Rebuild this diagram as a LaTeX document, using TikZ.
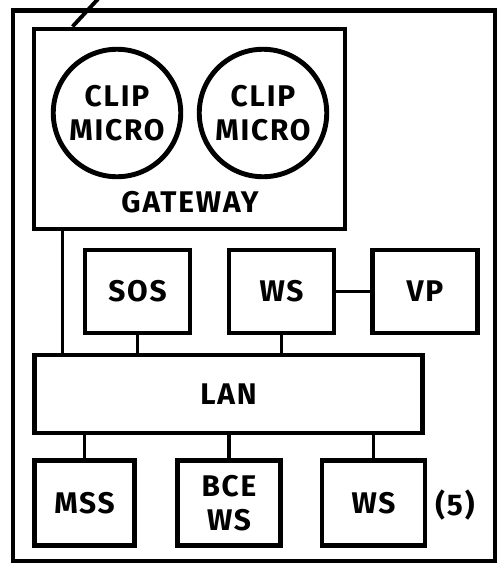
\documentclass[tikz,border=0pt]{standalone}
\usepackage{fontspec}
\setmainfont{Fira Sans}[LetterSpace=6]
\begin{document}
\begin{tikzpicture}[
  txt/.style={font=\bfseries\fontsize{17}{19.5}\selectfont, align=center, inner sep=0pt},
  unit/.style={txt, draw, line width=2.8pt, minimum width=2.1cm, minimum height=1.66cm},
  micro/.style={txt, draw, circle, line width=2.8pt, minimum size=2.55cm},
  link/.style={line width=2.2pt}]
  \useasboundingbox (0,0) rectangle (10.02,-11.28);
  % outer frame
  \draw[line width=2.5pt] (0.26,-0.21) rectangle (9.9,-11.22);
  % gateway with the two micros
  \node[draw, line width=2.8pt, minimum width=6.22cm, minimum height=4.0cm] (gw) at (3.79,-2.58) {};
  \node[micro] (micro1) at (2.34,-2.26) {CLIP\\MICRO};
  \node[micro] (micro2) at (5.26,-2.26) {CLIP\\MICRO};
  \node[txt] (gwname) at (3.8,-4.04) {GATEWAY};
  % pointer tick at the top
  \coordinate (tick) at ([xshift=0.82cm]gw.north west);
  \coordinate (tickend) at (1.96,0.02);
  \draw[link] (tick) -- (tickend);
  % middle row
  \node[unit] (sos) at (2.75,-5.83) {SOS};
  \node[unit] (ws) at (5.63,-5.83) {WS};
  \node[unit] (vp) at (8.5,-5.83) {VP};
  % the LAN
  \node[unit, minimum width=7.76cm, minimum height=1.56cm] (lan) at (4.57,-7.88) {LAN};
  % bottom row
  \node[unit, minimum width=2.0cm, minimum height=1.7cm] (mss) at (1.69,-10.06) {MSS};
  \node[unit, minimum width=2.06cm, minimum height=1.7cm] (bce) at (4.58,-10.06) {BCE\\WS};
  \node[unit, minimum width=2.06cm, minimum height=1.7cm] (wsn) at (7.47,-10.06) {WS};
  \node[txt] (count) at (9.1,-10.1) {(5)};
  % links to the LAN
  \draw[link] ([xshift=0.62cm]gw.south west) -- ([xshift=0.62cm]gw.south west |- lan.north);
  \draw[link] (sos.south) -- (sos.south |- lan.north);
  \draw[link] (ws.south) -- (ws.south |- lan.north);
  \draw[link] (ws.east) -- (vp.west);
  \draw[link] (mss.north) -- (mss.north |- lan.south);
  \draw[link] (bce.north) -- (bce.north |- lan.south);
  \draw[link] (wsn.north) -- (wsn.north |- lan.south);
\end{tikzpicture}
\end{document}
